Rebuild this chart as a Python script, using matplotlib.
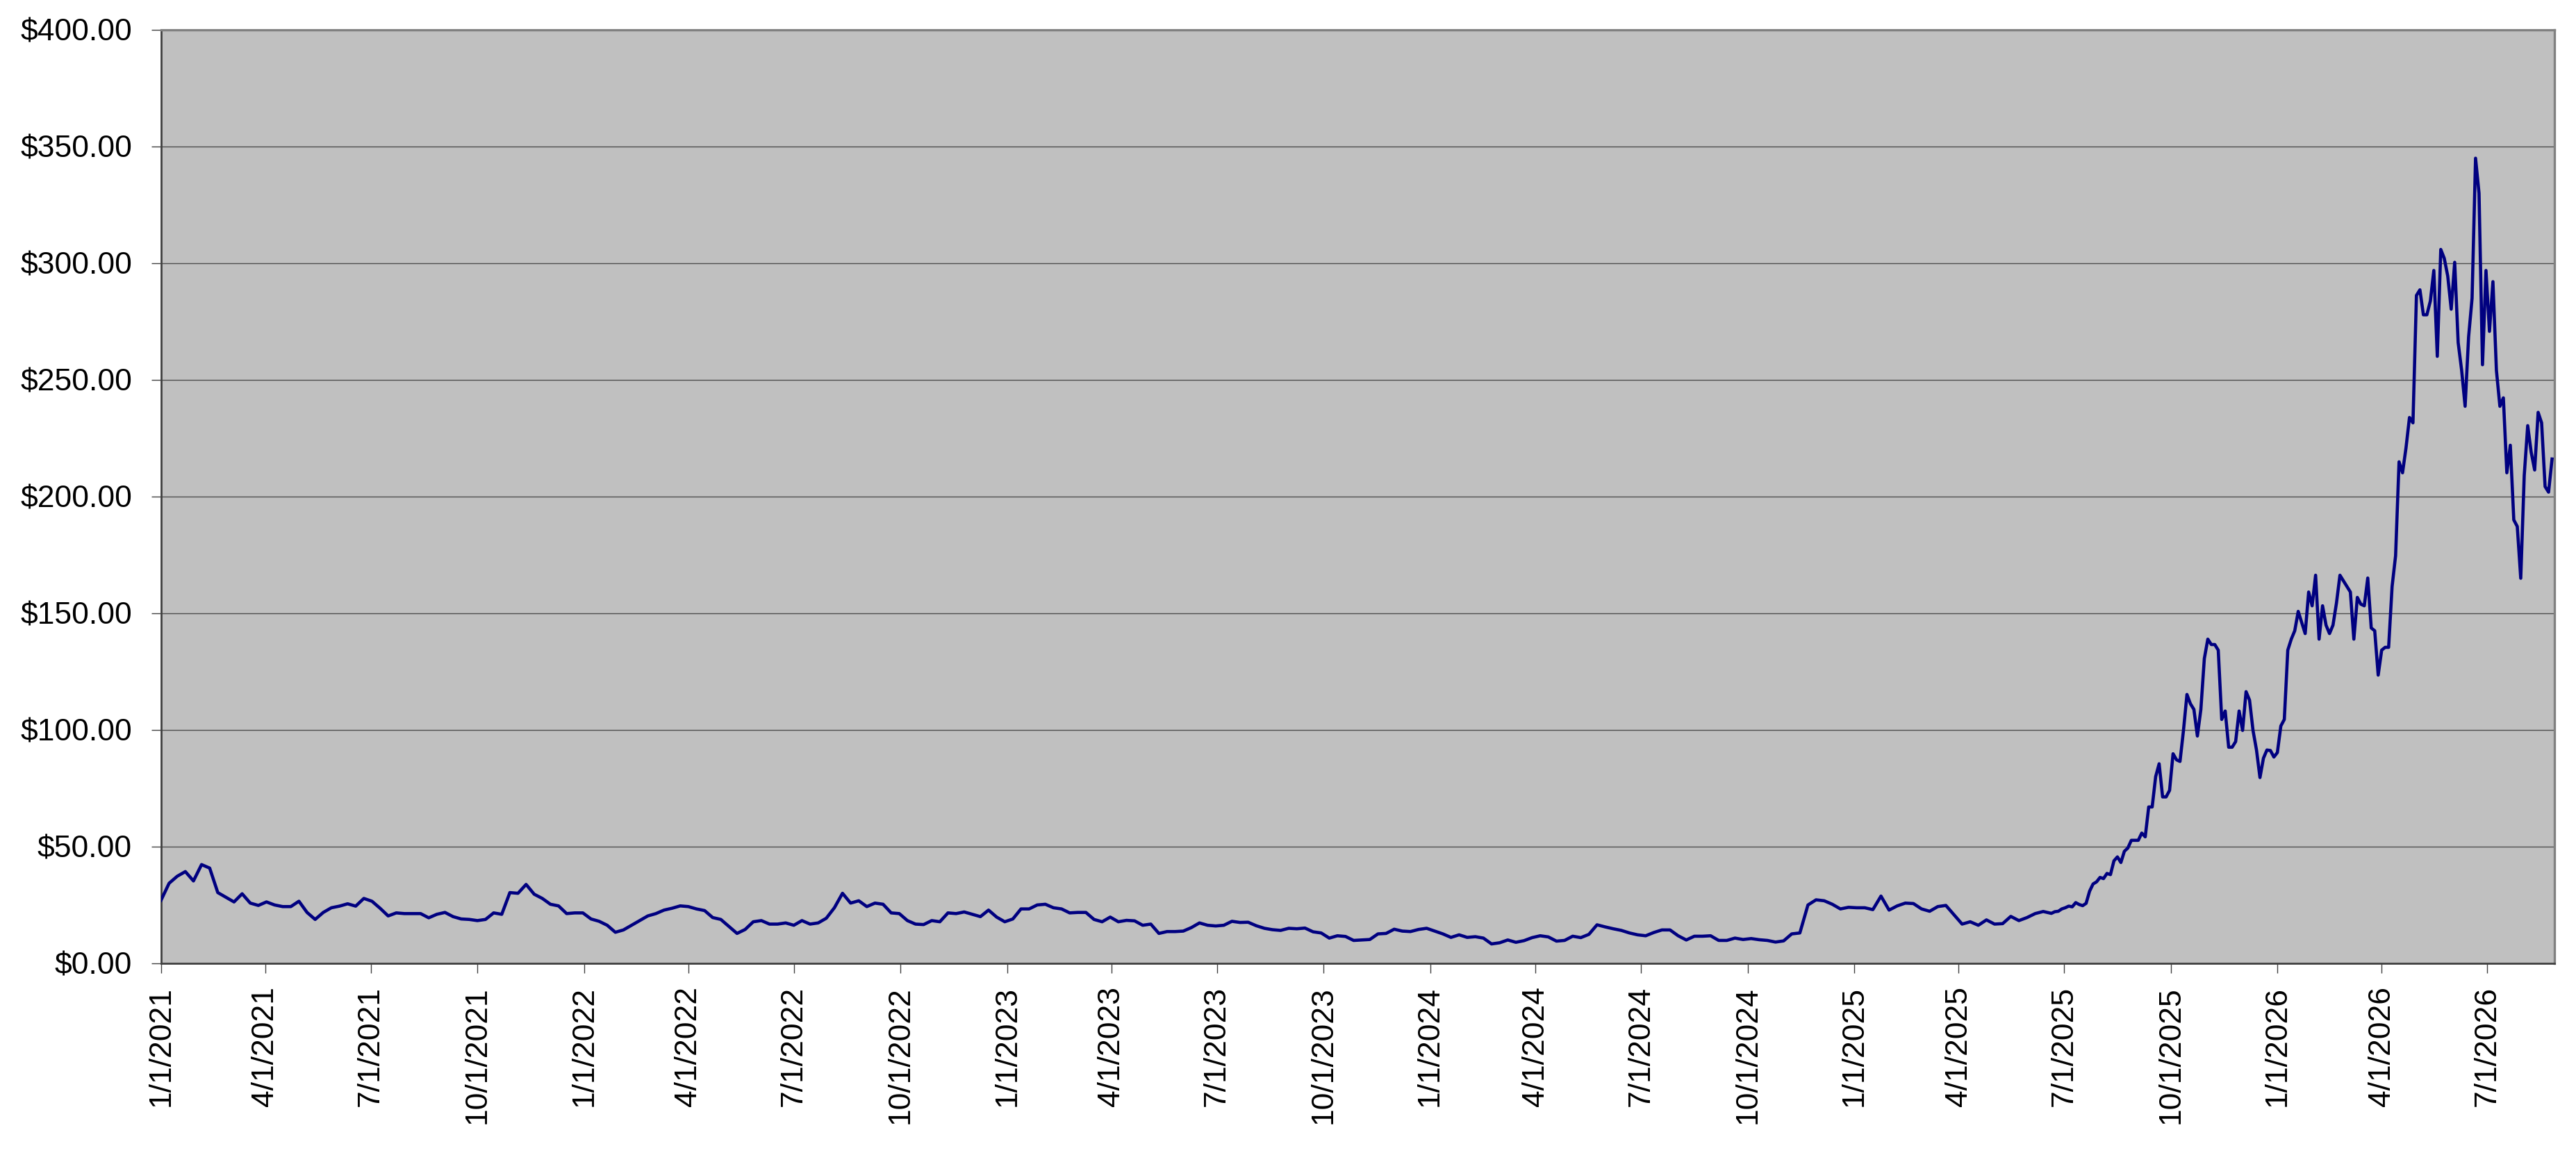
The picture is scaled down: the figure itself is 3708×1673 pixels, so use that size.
import matplotlib
matplotlib.use("Agg")
import matplotlib.pyplot as plt
import numpy as np
import pandas as pd

plt.rcParams["font.family"] = ["Liberation Sans", "DejaVu Sans"]

# ---------------------------------------------------------------------------
# Data
# ---------------------------------------------------------------------------
# weekly closes, 1/1/2021 .. mid-June 2025
WEEKLY_START = "2021-01-01"
weekly_prices = [
    27.0, 34.3, 37.3, 39.3, 35.3, 42.3, 40.8, 30.3, 28.3, 26.3, 29.8, 25.8, 24.8, 26.3,
    25.0, 24.3, 24.3, 26.6, 21.8, 18.8, 21.8, 23.8, 24.5, 25.5, 24.5, 27.8, 26.6, 23.6,
    20.3, 21.6, 21.3, 21.3, 21.3, 19.5, 21.0, 21.8, 20.0, 19.0, 18.8, 18.3, 18.8, 21.6,
    21.0, 30.3, 30.0, 33.8, 29.6, 27.8, 25.3, 24.6, 21.3, 21.6, 21.6, 19.0, 18.0, 16.3,
    13.3, 14.3, 16.3,
    18.3, 20.3, 21.3, 22.8, 23.6, 24.6, 24.3, 23.3, 22.6, 19.6, 18.8, 15.8, 12.8, 14.5,
    17.8, 18.3, 16.8, 16.8, 17.3, 16.3, 18.3, 16.8, 17.3, 19.3, 23.8, 30.0, 25.8, 26.8,
    24.3, 25.8, 25.3, 21.6, 21.3, 18.3, 16.8, 16.6, 18.3, 17.8, 21.6, 21.3, 22.0, 21.0,
    20.0, 22.8, 19.8, 17.8, 19.0, 23.3, 23.3, 25.0, 25.3, 23.8, 23.3, 21.6, 21.8, 21.8,
    18.8, 17.8,
    19.8, 17.8, 18.4, 18.2, 16.3, 16.8, 12.8, 13.6, 13.6, 13.8, 15.3, 17.3, 16.3, 16.0,
    16.3, 18.0, 17.5, 17.6, 16.1, 15.0, 14.4, 14.1, 15.0, 14.8, 15.1, 13.5, 13.0, 10.8,
    11.8, 11.5, 9.8, 10.0, 10.2, 12.6, 12.8, 14.6, 13.8, 13.6, 14.5, 15.0, 13.8, 12.6,
    11.1, 12.2, 11.1, 11.4, 10.8, 8.3, 8.8, 10.0, 9.0, 9.7, 11.0, 11.8, 11.3, 9.5,
    9.8, 11.6,
    11.0, 12.4, 16.5, 15.6, 14.8, 14.1, 13.0, 12.2, 11.8, 13.2, 14.3, 14.3, 11.8, 10.0,
    11.6, 11.6, 11.8, 9.8, 9.8, 10.8, 10.2, 10.6, 10.1, 9.8, 9.1, 9.6, 12.6, 13.0,
    25.0, 27.2, 26.8, 25.3, 23.3, 24.0, 23.8, 23.8, 23.0, 28.8, 22.8, 24.6, 25.8, 25.6,
    23.3, 22.3, 24.3, 24.8, 20.8, 16.8, 17.8, 16.3, 18.6, 16.8, 17.0, 20.1, 18.3, 19.6,
    21.3, 22.2,
]

# every third day from 6/20/2025 (the volatile stretch)
DAILY_START = "2025-06-20"
late_prices = [
    21.4, 22.1, 22.3, 23.3, 23.8, 24.5, 24.2, 26.0, 25.2, 24.7,
    25.7, 30.9, 34.0, 34.9, 36.8, 36.3, 38.5, 38.0, 43.9, 45.6,
    43.2, 48.0, 49.4, 52.7, 52.7, 52.7, 55.8, 54.2, 67.0, 67.0,
    80.0, 85.5, 71.3, 71.3, 74.1, 89.8, 87.2, 86.5, 99.8, 115.2,
    111.2, 108.8, 97.4, 108.8, 130.6, 138.9, 136.6, 136.6, 134.2, 104.5,
    108.1, 92.6, 92.6, 95.0, 108.1, 99.8, 116.4, 112.8, 99.8, 91.4,
    79.6, 87.9, 91.4, 91.2, 88.4, 90.3, 101.7, 104.5, 134.2, 138.9,
    142.5, 150.8, 146.1, 141.3, 159.1, 153.2, 166.3, 138.9, 153.2, 144.9,
    141.3, 144.9, 154.4, 166.3, 163.9, 161.5, 159.1, 138.9, 156.8, 153.9,
    153.2, 165.1, 143.7, 142.5, 123.5, 134.2, 135.4, 135.4, 161.5, 174.6,
    214.9, 210.2, 220.9, 233.9, 231.6, 286.2, 288.6, 277.9, 277.9, 283.8,
    296.9, 260.1, 305.9, 302.1, 294.5, 280.3, 300.4, 266.0, 254.1, 238.7,
    268.4, 285.0, 345.0, 330.0, 256.5, 296.9, 270.8, 292.1, 254.1, 238.7,
    242.3, 210.2, 222.0, 190.0, 187.2, 165.0, 209.0, 230.4, 219.0, 211.4,
    236.1, 231.6, 204.3, 201.9, 216.1,
]

X_END = "2026-08-28"
Y_TICKS = [0, 50, 100, 150, 200, 250, 300, 350, 400]
TICK_START = "2021-01-01"
TICK_END = "2026-07-01"


def build_series() -> pd.Series:
    weekly_dates = pd.date_range(WEEKLY_START, periods=len(weekly_prices), freq="7D")
    late_dates = pd.date_range(DAILY_START, periods=len(late_prices), freq="3D")
    dates = weekly_dates.append(late_dates)
    return pd.Series(weekly_prices + late_prices, index=dates)


def main() -> None:
    prices = build_series()

    fig = plt.figure(figsize=(37.08, 16.73), dpi=100)
    ax = fig.add_axes([0.0625, 0.1710, 0.9291, 0.8033])
    ax.set_facecolor("#c0c0c0")

    ax.plot(prices.index, prices.values, color="#000080", linewidth=3.3, zorder=3)

    # axes limits and ticks
    ax.set_xlim(pd.Timestamp(TICK_START), pd.Timestamp(X_END))
    ax.set_ylim(Y_TICKS[0], Y_TICKS[-1])
    ax.set_yticks(Y_TICKS)
    ax.set_yticklabels([f"${v:,.2f}" for v in Y_TICKS])

    quarter_ticks = pd.date_range(TICK_START, TICK_END, freq="QS")
    ax.set_xticks(quarter_ticks)
    ax.set_xticklabels([f"{d.month}/{d.day}/{d.year}" for d in quarter_ticks], rotation=90)

    ax.grid(axis="y", color="#4d4d4d", linewidth=1.0, zorder=1)
    ax.set_axisbelow(True)

    ax.tick_params(axis="y", labelsize=32, length=10, width=1.0, color="#404040", pad=20)
    ax.tick_params(axis="x", labelsize=32, length=10, width=1.0, color="#404040", pad=14)

    for side in ("top", "right"):
        ax.spines[side].set_color("#808080")
        ax.spines[side].set_linewidth(2.4)
    for side in ("left", "bottom"):
        ax.spines[side].set_color("#404040")
        ax.spines[side].set_linewidth(2.0)

    fig.savefig("out.png", dpi=100, facecolor="white")
    plt.close(fig)


if __name__ == "__main__":
    main()
